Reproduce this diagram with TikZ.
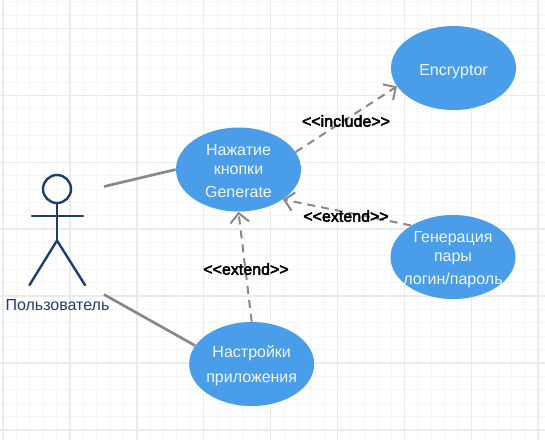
\documentclass[tikz,border=0pt]{standalone}
\usepackage{fontspec}
\setmainfont{Liberation Sans}
\newfontfamily\stereofont[FakeBold=3]{Liberation Sans}
\usetikzlibrary{shapes.geometric,arrows.meta}
\definecolor{usecase}{HTML}{4A9DE8}
\definecolor{conn}{HTML}{888888}
\definecolor{actorc}{HTML}{1F3E6D}
\definecolor{majorgrid}{HTML}{EBEBEB}
\definecolor{minorgrid}{HTML}{F7F7F7}
\definecolor{uctext}{HTML}{F2F8FE}
\tikzset{x=0.75pt,y=-0.75pt,
  usecasebox/.style={ellipse,fill=usecase,minimum width=93.75pt,minimum height=63pt,inner sep=-30pt,text=uctext,align=center,font=\fontsize{12pt}{14pt}\selectfont},
  assoc/.style={draw=conn,line width=2pt},
  depend/.style={draw=conn,line width=1.5pt,dash pattern=on 6pt off 4.5pt,-{Straight Barb[length=7pt,width=14pt,line width=1.5pt]}},
  stereo/.style={font=\fontsize{12pt}{14pt}\stereofont,text=black,inner sep=0pt},
  limb/.style={draw=actorc,line width=1.8pt,line cap=round}}
\begin{document}
\begin{tikzpicture}
\useasboundingbox (0,0) rectangle (545,440);
\fill[white] (0,0) rectangle (545,440);
\foreach \k in {0,...,40}{
  \draw[minorgrid,line width=0.7pt] ({3+13.38*\k},0) -- ({3+13.38*\k},440);
  \draw[minorgrid,line width=0.7pt] (0,{1.7+13.38*\k}) -- (545,{1.7+13.38*\k});
}
\foreach \k in {0,...,8}{
  \draw[majorgrid,line width=1.1pt] ({3+66.9*\k},0) -- ({3+66.9*\k},440);
}
\foreach \k in {0,...,6}{
  \draw[majorgrid,line width=1.1pt] (0,{28.5+66.9*\k}) -- (545,{28.5+66.9*\k});
}
\node[usecasebox] (enc) at (453.5,68) {\rule{0pt}{14pt}Encryptor};
\node[usecasebox] (gen) at (238.5,169.5) {\rule{0pt}{10.9pt}Нажатие\\[0pt]кнопки\\[3.5pt]Generate};
\node[usecasebox] (pair) at (453,257) {\rule{0pt}{12.4pt}Генерация\\[0pt]пары\\[3.5pt]логин/пароль};
\node[usecasebox] (conf) at (251.7,364) {\rule{0pt}{11.6pt}Настройки\\[4.5pt]приложения};
% actor
\node[circle,draw=actorc,line width=1.8pt,minimum size=21pt,inner sep=0pt] (head) at (57,189) {};
\coordinate (hip) at (57,240.5);
\coordinate (armL) at (32,216);
\coordinate (armR) at (83,216);
\coordinate (legL) at (29.5,285);
\coordinate (legR) at (85,285);
\draw[limb] (head.south) -- (hip);
\draw[limb] (armL) -- (armR);
\draw[limb] (legL) -- (hip) -- (legR);
\node[text=actorc,font=\fontsize{12pt}{14pt}\selectfont,inner sep=0pt] (actorlabel) at (57.5,305) {Пользователь};
% connectors
\coordinate (actorA) at (104,186.5);
\coordinate (actorB) at (104,294.5);
\draw[assoc] (actorA) -- (gen.west);
\draw[assoc] (actorB) -- (conf.162);
\draw[depend] (gen.17) -- (enc.198.6);
\draw[depend] (pair.143) -- (gen.-34.8);
\draw[depend] (conf.north) -- (gen.south);
\node[stereo] (l1) at (346,121) {<{}<include>{}>};
\node[stereo] (l2) at (346,216) {<{}<extend>{}>};
\node[stereo] (l3) at (246,269) {<{}<extend>{}>};
\end{tikzpicture}
\end{document}
